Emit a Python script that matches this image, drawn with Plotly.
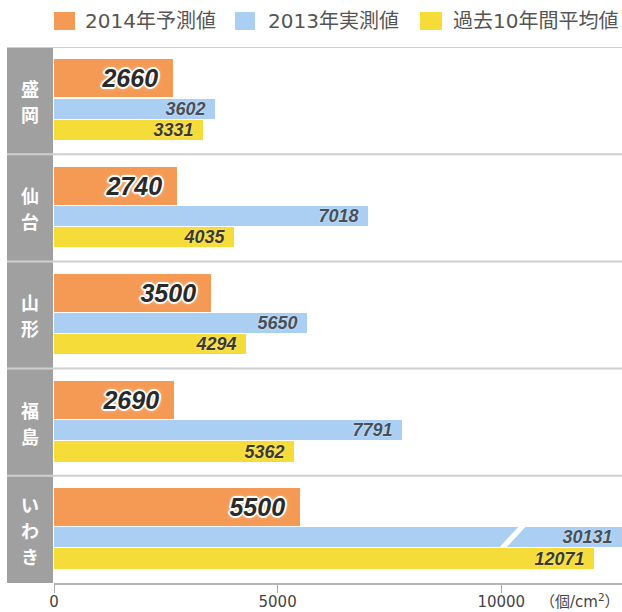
import plotly.graph_objects as go

# ---- data ----
cities = ["盛岡", "仙台", "山形", "福島", "いわき"]
series_names = ["2014年予測値", "2013年実測値", "過去10年間平均値"]
forecast_2014 = [2660, 2740, 3500, 2690, 5500]
measured_2013 = [3602, 7018, 5650, 7791, 30131]
avg_10yr = [3331, 4035, 4294, 5362, 12071]
x_ticks = [0, 5000, 10000]
x_tick_labels = ["0", "5000", "10000"]
unit_label = "（個/cm<sup>2</sup>）"

# ---- styling ----
W, H = 622, 612
ML, MR, MT, MB = 54, 0, 47, 29
PW, PH = W - ML - MR, H - MT - MB
XMAX = 12700
BREAK_AT = 10250  # where the broken bar's slash sits

colors = ["#f59a55", "#abcff2", "#f6dc38"]
offsets = [-0.385, -0.018, 0.177]
widths = [0.355, 0.185, 0.19]
label_sizes = [25, 18, 18]
label_pads = ["\u00a0\u2009", "\u00a0\u200a", "\u00a0\u200a"]
label_colors = ["#2a2a2a", "#46505a", "#3f3a26"]
halo_big = ("0 0 2px #fff, 0 0 3px #fff, 0 0 4px #fff, 1px 1px 0 #fff, -1px -1px 0 #fff, "
            "1px -1px 0 #fff, -1px 1px 0 #fff, 2px 0 0 #fff, -2px 0 0 #fff, 0 2px 0 #fff, 0 -2px 0 #fff")
halo_small = "0 0 2px rgba(255,255,255,0.7)"
shadows = [halo_big, halo_small, halo_small]

ypos = list(range(len(cities)))
row_px = PH / len(cities)

# one tick per character of each city name, stacked vertically
CHAR_PITCH = 26 / row_px
char_vals, char_text = [], []
for i, c in enumerate(cities):
    n = len(c)
    center = i + 0.02
    for k, ch in enumerate(c):
        char_vals.append(center + (k - (n - 1) / 2) * CHAR_PITCH)
        char_text.append(ch)

fig = go.Figure()
for name, vals, col, off, wd, fs, pad, fc, sh in zip(
        series_names, [forecast_2014, measured_2013, avg_10yr],
        colors, offsets, widths, label_sizes, label_pads, label_colors, shadows):
    shown = [min(v, XMAX) for v in vals]
    fig.add_trace(go.Bar(
        name=name, orientation="h", y=ypos, x=shown,
        text=[str(v) for v in vals],
        texttemplate="%{text}" + pad,
        textposition="inside", insidetextanchor="end", textangle=0,
        constraintext="none", cliponaxis=True,
        offset=off, width=wd,
        marker=dict(color=col, line=dict(width=0)),
        textfont=dict(family="Liberation Sans, Arial, sans-serif", size=fs, color=fc,
                      weight="bold", style="italic", shadow=sh),
        hoverinfo="skip", showlegend=False,
    ))

shapes = []
# grey label band on the left
shapes.append(dict(type="rect", xref="paper", yref="paper",
                   x0=(7 - ML) / PW, x1=(53 - ML) / PW, y0=0, y1=1,
                   fillcolor="#a0a0a0", line=dict(width=0), layer="below"))
# row separators
for i in range(len(cities)):
    shapes.append(dict(type="line", xref="paper", yref="y",
                       x0=(7 - ML) / PW, x1=1, y0=i - 0.5, y1=i - 0.5,
                       line=dict(color="#cfcfcf", width=2), layer="below"))
# axis break slash on the over-range bar
for i, v in enumerate(measured_2013):
    if v > XMAX:
        yb = i + offsets[1] + widths[1]
        yt = i + offsets[1] - 0.005
        dx = 420  # horizontal lean of the slash (data units)
        gw = 160  # gap width
        shapes.append(dict(type="path", xref="x", yref="y",
                           path=(f"M {BREAK_AT - dx/2 - gw/2},{yb} L {BREAK_AT - dx/2 + gw/2},{yb} "
                                 f"L {BREAK_AT + dx/2 + gw/2},{yt} L {BREAK_AT + dx/2 - gw/2},{yt} Z"),
                           fillcolor="white", line=dict(width=0), layer="above"))

# custom legend
legend_x = [(54, 75, 83), (235, 255, 266), (420, 442, 451)]
annotations = []
for (sx0, sx1, tx), col, name in zip(legend_x, colors, series_names):
    shapes.append(dict(type="rect", xref="paper", yref="paper",
                       x0=(sx0 - ML) / PW, x1=(sx1 - ML) / PW,
                       y0=(H - MB - 30) / PH, y1=(H - MB - 12) / PH,
                       fillcolor=col, line=dict(width=0)))
    annotations.append(dict(xref="paper", yref="paper", x=(tx - ML) / PW, y=(H - MB - 21) / PH,
                            xanchor="left", yanchor="middle", showarrow=False, text=name,
                            font=dict(family="DejaVu Sans, Noto Sans CJK JP", size=20, color="#555")))

annotations.append(dict(xref="paper", yref="paper", x=(538 - ML) / PW, y=(H - MB - 601) / PH,
                        xanchor="left", yanchor="middle", showarrow=False, text=unit_label,
                        font=dict(family="DejaVu Sans, Noto Sans CJK JP", size=15, color="#444")))

fig.update_layout(
    width=W, height=H,
    margin=dict(l=ML, r=MR, t=MT, b=MB, pad=0, autoexpand=False),
    paper_bgcolor="white", plot_bgcolor="white",
    barmode="overlay", bargap=0,
    shapes=shapes, annotations=annotations,
    xaxis=dict(range=[0, XMAX], tickvals=x_ticks, ticktext=x_tick_labels, automargin=False,
               showgrid=False, zeroline=False, showline=True, linecolor="#b5b5b5", linewidth=2,
               ticks="outside", ticklen=8, tickcolor="#aaa", tickwidth=1, ticklabelstandoff=-4,
               tickfont=dict(family="DejaVu Sans", size=15, color="#444"), fixedrange=True),
    yaxis=dict(range=[len(cities) - 0.5, -0.5], tickvals=char_vals, ticktext=char_text,
               automargin=False,
               showgrid=False, zeroline=False, showline=False, ticks="",
               ticklabelstandoff=14,
               tickfont=dict(family="Noto Sans CJK JP", size=18, color="white", weight="bold"),
               fixedrange=True),
)

fig.write_html("out.html", config={"displayModeBar": False},
               post_script="document.body.style.margin='0';document.body.style.overflow='hidden';")
